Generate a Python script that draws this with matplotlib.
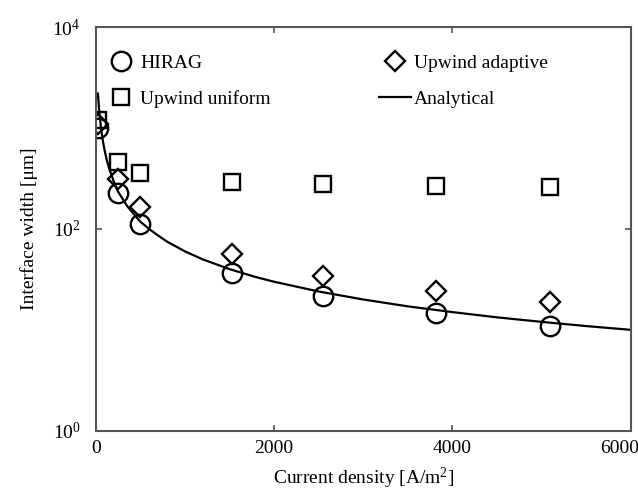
import matplotlib
matplotlib.use("Agg")
import matplotlib.pyplot as plt
import matplotlib.transforms as mtransforms

plt.rcParams["font.family"] = ["Liberation Serif", "DejaVu Serif"]
plt.rcParams["mathtext.fontset"] = "custom"
plt.rcParams["mathtext.rm"] = "Liberation Serif"
plt.rcParams["mathtext.it"] = "Liberation Serif:italic"

# values
current = [30, 250, 500, 1530, 2550, 3820, 5100]
hirag = [1000, 226, 112, 36.4, 21.8, 14.6, 11.0]
upwind_uniform = [1200, 465, 362, 290, 277, 265, 262]
upwind_adaptive = [1100, 315, 166, 56.5, 34.4, 24.4, 19.0]

analytical_x = [25, 30, 40, 50, 60, 80, 100, 125, 150, 200, 250, 300, 350,
                400, 500, 600, 700, 800, 1000, 1200, 1500, 1800, 2000, 2500,
                3000, 3500, 4000, 4500, 5000, 5500, 6000]
analytical_y = [2200, 1900, 1450, 1200, 1000, 750, 600, 480, 400, 300, 235,
                200, 170, 150, 118, 100, 86, 75, 60, 50, 40, 33.3, 30, 24,
                20, 17.1, 15, 13.3, 12, 10.9, 10]

fig = plt.figure(figsize=(6.38, 4.92), dpi=100)
ax = fig.add_axes([0.150, 0.1246, 0.8385, 0.82])

mk = dict(linestyle="none", markerfacecolor="none", markeredgecolor="black",
          markeredgewidth=1.7)
ax.plot(current, hirag, marker="o", markersize=14, label="HIRAG", **mk)
ax.plot(current, upwind_uniform, marker="s", markersize=12,
        label="Upwind uniform", **mk)
ax.plot(current, upwind_adaptive, marker="D", markersize=10.5,
        label="Upwind adaptive", **mk)
ax.plot(analytical_x, analytical_y, color="black", lw=1.6, label="Analytical")

ax.set_yscale("log")
ax.set_xlim(0, 6000)
ax.set_ylim(1, 1e4)
ax.set_xticks([0, 2000, 4000, 6000])
ax.set_yticks([1, 100, 10000])
ax.set_yticklabels(["$10^0$", "$10^2$", "$10^4$"])
ax.minorticks_off()
ax.tick_params(direction="in", length=4, width=1.2, color="#555555",
               labelsize=14, top=True, right=True)
ax.tick_params(axis="x", pad=7)
ax.tick_params(axis="y", pad=11)
for sp in ax.spines.values():
    sp.set_color("#555555")
    sp.set_linewidth(1.5)

# last x label sits inside the figure in the reference
lbl = ax.get_xticklabels()[-1]
lbl.set_transform(lbl.get_transform() +
                  mtransforms.ScaledTranslation(-0.11, 0, fig.dpi_scale_trans))

ax.set_xlabel("Current density [A/m$^2$]", fontsize=14, labelpad=6)
ax.set_ylabel("Interface width [\u03bcm]", fontsize=14, labelpad=10)

ax.legend(loc="upper left", bbox_to_anchor=(0.0175, 0.933), ncol=2,
          frameon=False, fontsize=14, handlelength=1.65, handletextpad=0.15,
          columnspacing=5.55, labelspacing=0.95, borderaxespad=0, borderpad=0,
          numpoints=1)

fig.savefig("out.png", dpi=100)
